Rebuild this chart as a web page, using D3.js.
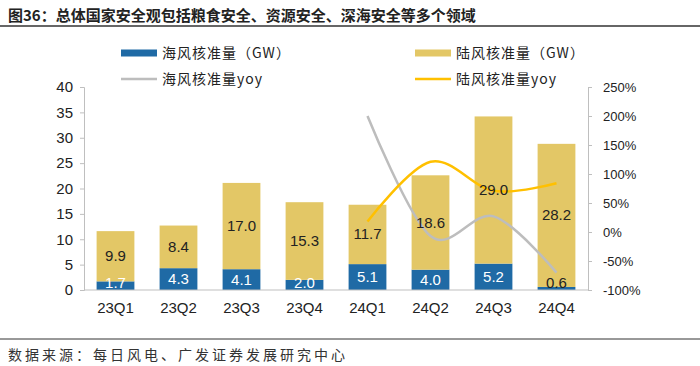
<!DOCTYPE html>
<html><head><meta charset="utf-8">
<script src="https://cdn.jsdelivr.net/npm/d3@7"></script>
<style>
html,body{margin:0;padding:0;background:#fff;}
svg{display:block;font-family:"Liberation Sans","Noto Sans CJK SC",sans-serif;}
</style></head>
<body>
<svg id="c" width="700" height="366"></svg>
<script>
const categories = ["23Q1","23Q2","23Q3","23Q4","24Q1","24Q2","24Q3","24Q4"];
const offshore = [1.7,4.3,4.1,2.0,5.1,4.0,5.2,0.6];
const onshore = [9.9,8.4,17.0,15.3,11.7,18.6,29.0,28.2];
const offshoreYoy = [null,null,null,null,200,-7,27,-70];
const onshoreYoy = [null,null,null,null,18,121,71,84];
const leftTicks = [0,5,10,15,20,25,30,35,40];
const rightTicks = [-100,-50,0,50,100,150,200,250];
const title = "图36：总体国家安全观包括粮食安全、资源安全、深海安全等多个领域";
const source = "数据来源：每日风电、广发证券发展研究中心";
const legendNames = ["海风核准量（GW）","陆风核准量（GW）","海风核准量yoy","陆风核准量yoy"];

const BLUE = "#1F6AA5", GOLD = "#E3C766", GRAY = "#BDBDBD", YEL = "#FFC000", AX = "#BFBFBF";
const svg = d3.select("#c");
const cjk = '"Noto Sans CJK SC",sans-serif';

// title
svg.append("text").attr("x",8).attr("y",21).attr("font-family",cjk).attr("font-weight","bold")
  .attr("font-size",15).attr("fill","#222").text(title);
svg.append("line").attr("x1",0).attr("x2",700).attr("y1",26).attr("y2",26).attr("stroke","#333").attr("stroke-width",1.5);
svg.append("line").attr("x1",0).attr("x2",700).attr("y1",339).attr("y2",339).attr("stroke","#333").attr("stroke-width",1);
svg.append("text").attr("x",8).attr("y",360).attr("font-family",cjk).attr("font-size",14)
  .attr("letter-spacing",3).attr("fill","#333").text(source);

const x = d3.scaleBand().domain(categories).range([84,588]).paddingInner(0.4).paddingOuter(0.2);
const yL = d3.scaleLinear().domain([0,40]).range([290,87]);
const yR = d3.scaleLinear().domain([-100,250]).range([290,87]);

// axes
const gL = svg.append("g").attr("transform","translate(84,0)")
  .call(d3.axisLeft(yL).tickValues(leftTicks).tickSize(4).tickPadding(7));
gL.selectAll("path,line").attr("stroke",AX);
gL.selectAll("text").attr("font-size",15).attr("fill","#222").attr("font-family","Liberation Sans");

const gR = svg.append("g").attr("transform","translate(588,0)")
  .call(d3.axisRight(yR).tickValues(rightTicks).tickSize(4).tickPadding(11).tickFormat(d=>d+"%"));
gR.selectAll("path,line").attr("stroke",AX);
gR.selectAll("text").attr("font-size",13).attr("fill","#222").attr("font-family","Liberation Sans").attr("text-anchor","start");

// bars
const bw = x.bandwidth();
const g = svg.append("g");
g.selectAll(".off").data(categories).join("rect")
  .attr("x",d=>x(d)).attr("width",bw)
  .attr("y",(d,i)=>yL(offshore[i])).attr("height",(d,i)=>yL(0)-yL(offshore[i])).attr("fill",BLUE);
g.selectAll(".on").data(categories).join("rect")
  .attr("x",d=>x(d)).attr("width",bw)
  .attr("y",(d,i)=>yL(offshore[i]+onshore[i])).attr("height",(d,i)=>yL(offshore[i])-yL(offshore[i]+onshore[i])).attr("fill",GOLD);

// baseline
svg.append("line").attr("x1",84).attr("x2",588).attr("y1",290).attr("y2",290).attr("stroke",AX);

// x labels
svg.append("g").selectAll("text").data(categories).join("text")
  .attr("x",d=>x(d)+bw/2).attr("y",313).attr("text-anchor","middle")
  .attr("font-size",15).attr("fill","#222").text(d=>d);

// lines
const line = d3.line().defined(d=>d[1]!=null).x(d=>x(d[0])+bw/2).y(d=>yR(d[1])).curve(d3.curveCardinal.tension(0));
svg.append("path").attr("d",line(categories.map((c,i)=>[c,offshoreYoy[i]])))
  .attr("fill","none").attr("stroke",GRAY).attr("stroke-width",2.5);
svg.append("path").attr("d",line(categories.map((c,i)=>[c,onshoreYoy[i]])))
  .attr("fill","none").attr("stroke",YEL).attr("stroke-width",2.5);

// bar labels
const lab = svg.append("g").attr("font-size",15).attr("text-anchor","middle");
lab.selectAll(".lo").data(categories).join("text")
  .attr("x",d=>x(d)+bw/2)
  .attr("y",(d,i)=>Math.min(yL(offshore[i]/2), 283)+5)
  .attr("fill",(d,i)=>offshore[i]<1?"#222":"#fff")
  .text((d,i)=>offshore[i].toFixed(1));
lab.selectAll(".ln").data(categories).join("text")
  .attr("x",d=>x(d)+bw/2)
  .attr("y",(d,i)=>yL(offshore[i]+onshore[i]/2)+5)
  .attr("fill","#222")
  .text((d,i)=>onshore[i].toFixed(1));

// legend
const leg = svg.append("g").attr("font-family",cjk).attr("font-size",14).attr("fill","#222");
const lp = [[121,53],[415,53],[121,79],[415,79]];
leg.append("rect").attr("x",lp[0][0]).attr("y",lp[0][1]-3.5).attr("width",36).attr("height",7).attr("fill",BLUE);
leg.append("rect").attr("x",lp[1][0]).attr("y",lp[1][1]-3.5).attr("width",36).attr("height",7).attr("fill",GOLD);
leg.append("line").attr("x1",lp[2][0]).attr("x2",lp[2][0]+36).attr("y1",lp[2][1]).attr("y2",lp[2][1]).attr("stroke",GRAY).attr("stroke-width",2.5);
leg.append("line").attr("x1",lp[3][0]).attr("x2",lp[3][0]+36).attr("y1",lp[3][1]).attr("y2",lp[3][1]).attr("stroke",YEL).attr("stroke-width",2.5);
leg.selectAll(".lt").data(legendNames).join("text")
  .attr("x",(d,i)=>lp[i][0]+41).attr("y",(d,i)=>lp[i][1]+5).attr("letter-spacing",1).text(d=>d);
</script>
</body></html>
